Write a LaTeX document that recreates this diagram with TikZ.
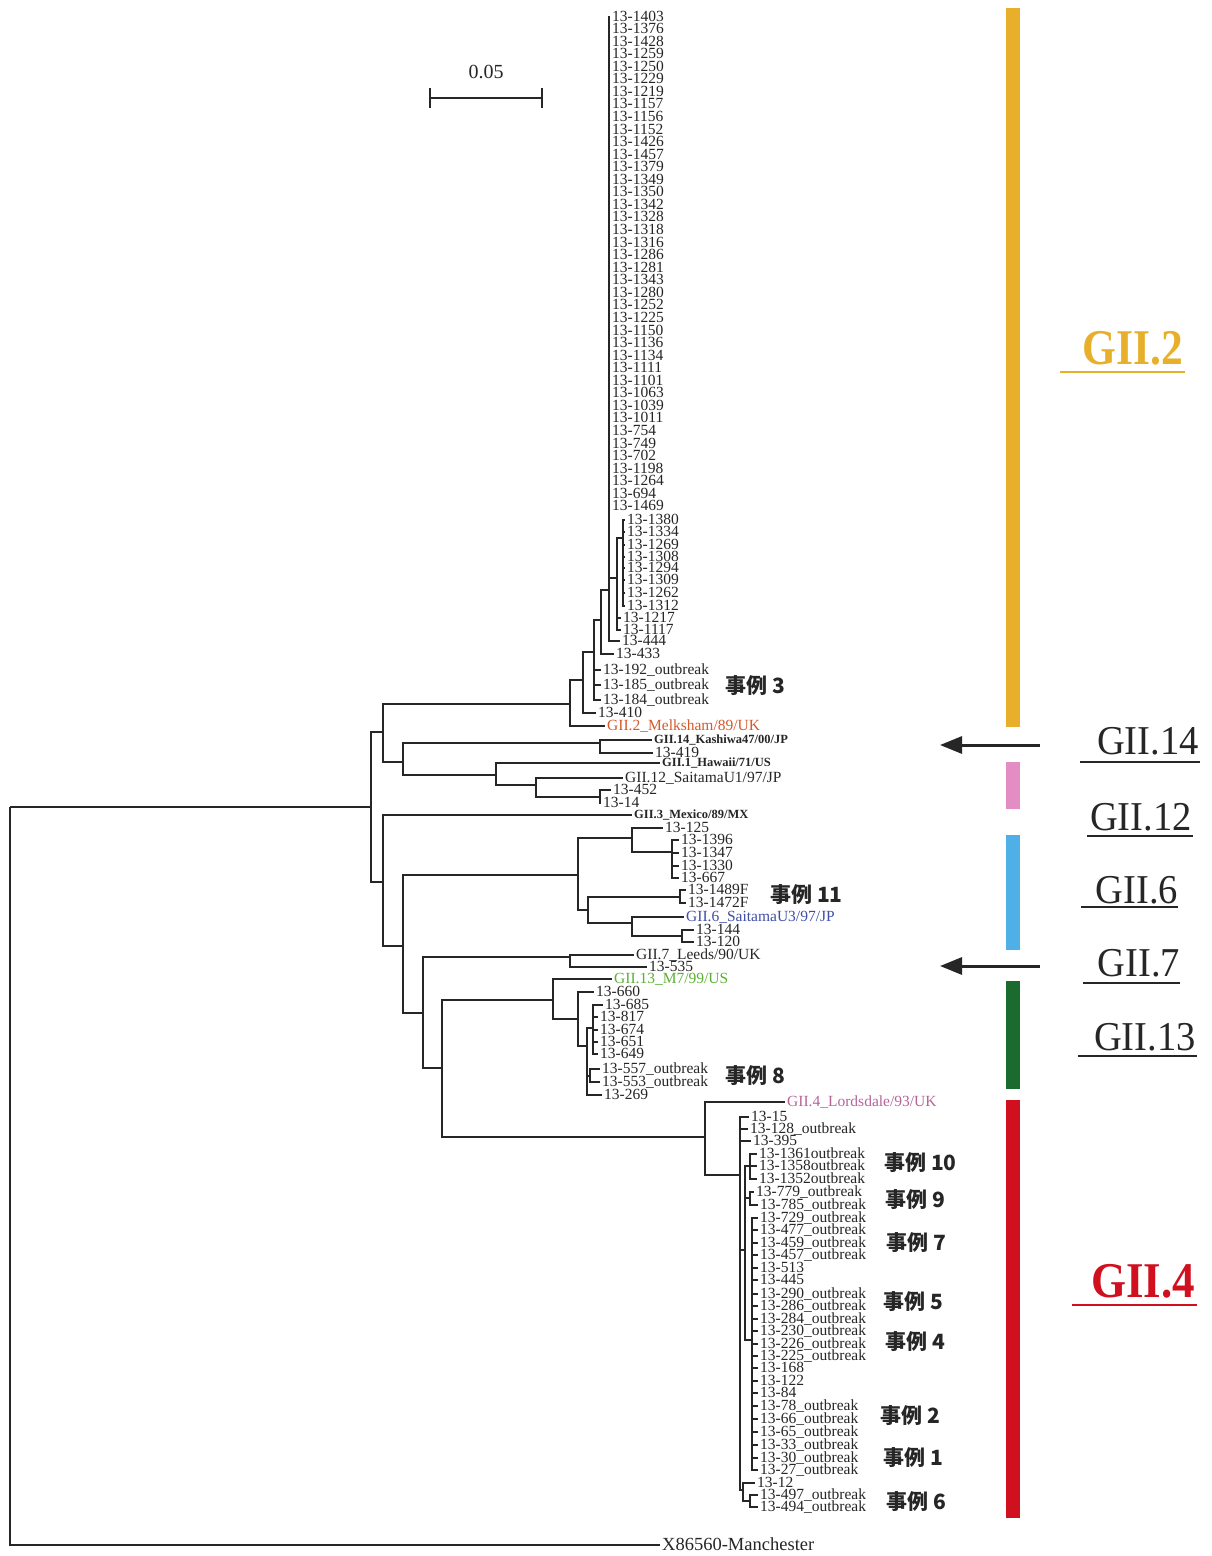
\documentclass[tikz,border=0pt]{standalone}
\usepackage{graphicx}
\usepackage{fontspec}
\setmainfont{Liberation Serif}
\newfontfamily\cjk{Noto Sans CJK JP}
\usetikzlibrary{arrows.meta}
\definecolor{cOr}{HTML}{E8B02A}
\definecolor{cPk}{HTML}{E48CC4}
\definecolor{cBl}{HTML}{4EB0E6}
\definecolor{cGn}{HTML}{1B6A2E}
\definecolor{cRd}{HTML}{D0101E}
\definecolor{tMel}{HTML}{D45A2A}
\definecolor{tSai}{HTML}{3F4FA8}
\definecolor{tM7}{HTML}{5BB033}
\definecolor{tLor}{HTML}{B5659A}
\definecolor{ink}{HTML}{262626}
\begin{document}
\begin{tikzpicture}[x=1pt,y=-1pt,
  br/.style={line width=2.2pt, draw=ink},
  leaf/.style={anchor=west, inner xsep=2pt, inner ysep=0pt, text height=9.6pt, text depth=1.6pt, text=ink, font=\fontsize{15.5}{15.5}\selectfont},
  refl/.style={anchor=west, inner xsep=2pt, inner ysep=0pt, text height=8pt, text depth=1pt, text=ink, font=\fontsize{12.5}{12.5}\selectfont\bfseries},
  caselab/.style={anchor=west, inner sep=0pt, text=ink, font=\cjk\bfseries\fontsize{21}{21}\selectfont},
  glab/.style={inner sep=0pt, text=ink, font=\fontsize{41}{41}\selectfont},
  gbig/.style={inner sep=0pt, font=\fontsize{50}{50}\selectfont\bfseries},
  uline/.style={line width=1.6pt, draw=ink},
  arr/.style={line width=3pt, draw=ink, -{Triangle[length=22pt,width=17pt]}}
]
\fill[white] (0,0) rectangle (1212,1556);
\useasboundingbox (0,0) rectangle (1212,1556);

% ---------- scale bar ----------
\coordinate (sbL) at (429,98);
\coordinate (sbR) at (543,98);
\draw[br, {Bar[width=20pt]}-{Bar[width=20pt]}] (sbL) -- (sbR);
\node[text=ink, font=\fontsize{20}{20}\selectfont] (sbt) at (486,72) {0.05};

% ---------- root ----------
\coordinate (root) at (10,807);
\coordinate (n371) at (371,807);
\draw[br] (root) |- (n371);
\node[leaf, text height=12pt, text depth=2pt, font=\fontsize{18.5}{18.5}\selectfont] (out) at (660,1545) {X86560-Manchester};
\draw[br] (root) |- (out.west);

% ---------- upper part ----------
\coordinate (nA) at (383,732);
\draw[br] (n371) |- (nA);
\coordinate (n570) at (570,704);
\coordinate (n403) at (403,762);
\draw[br] (nA) |- (n570);
\draw[br] (nA) |- (n403);

\coordinate (n583) at (583,680);
\node[leaf, text=tMel] (mel) at (605,726) {GII.2\_Melksham/89/UK};
\draw[br] (n570) |- (n583);
\draw[br] (n570) |- (mel.west);

\coordinate (n594) at (594,652);
\node[leaf] (l410) at (596,713) {13-410};
\draw[br] (n583) |- (n594);
\draw[br] (n583) |- (l410.west);

\coordinate (n601) at (601,620);
\draw[br] (n594) |- (n601);
\node[leaf] (l192) at (601,670) {13-192\_outbreak};
\node[leaf] (l185) at (601,685) {13-185\_outbreak};
\node[leaf] (l184) at (601,700) {13-184\_outbreak};
\draw[br] (n594) |- (l192.west);
\draw[br] (n594) |- (l185.west);
\draw[br] (n594) |- (l184.west);

\coordinate (n609) at (609,590);
\node[leaf] (l433) at (614,654) {13-433};
\draw[br] (n601) |- (n609);
\draw[br] (n601) |- (l433.west);

\foreach \t [count=\i] in {1403,1376,1428,1259,1250,1229,1219,1157,1156,1152,1426,1457,1379,1349,1350,1342,1328,1318,1316,1286,1281,1343,1280,1252,1225,1150,1136,1134,1111,1101,1063,1039,1011,754,749,702,1198,1264,694,1469}{
  \node[leaf] (p\i) at (610,{17+(\i-1)*12.56}) {13-\t};
  \draw[br] (n609) |- (p\i.west);
}
\coordinate (n617) at (617,578);
\node[leaf] (l444) at (620,641) {13-444};
\draw[br] (n609) |- (n617);
\draw[br] (n609) |- (l444.west);

\coordinate (n623) at (623,538);
\node[leaf] (l1217) at (621,618) {13-1217};
\node[leaf] (l1117) at (621,630) {13-1117};
\draw[br] (n617) |- (n623);
\draw[br] (n617) |- (l1217.west);
\draw[br] (n617) |- (l1117.west);
\foreach \t/\y [count=\i] in {1380/520,1334/532,1269/545,1308/557,1294/568,1309/580,1262/593,1312/606}{
  \node[leaf] (q\i) at (625,\y) {13-\t};
  \draw[br] (n623) |- (q\i.west);
}

% GII.14 / GII.1 / GII.12
\coordinate (n600a) at (600,743);
\coordinate (n496) at (496,775);
\draw[br] (n403) |- (n600a);
\draw[br] (n403) |- (n496);
\node[refl] (kas) at (652,740) {GII.14\_Kashiwa47/00/JP};
\node[leaf] (l419) at (653,753) {13-419};
\draw[br] (n600a) |- (kas.west);
\draw[br] (n600a) |- (l419.west);
\node[refl] (haw) at (660,763) {GII.1\_Hawaii/71/US};
\coordinate (n536) at (536,785);
\draw[br] (n496) |- (haw.west);
\draw[br] (n496) |- (n536);
\node[leaf] (su1) at (623,778) {GII.12\_SaitamaU1/97/JP};
\coordinate (n600b) at (600,797);
\draw[br] (n536) |- (su1.west);
\draw[br] (n536) |- (n600b);
\node[leaf] (l452) at (611,790) {13-452};
\node[leaf] (l14) at (601,803) {13-14};
\draw[br] (n600b) |- (l452.west);
\draw[br] (n600b) |- (l14.west);

% ---------- lower part ----------
\coordinate (nB) at (383,882);
\draw[br] (n371) |- (nB);
\node[refl] (mex) at (632,815) {GII.3\_Mexico/89/MX};
\coordinate (n403b) at (403,946);
\draw[br] (nB) |- (mex.west);
\draw[br] (nB) |- (n403b);
\coordinate (n578) at (578,875);
\coordinate (n423) at (423,1013);
\draw[br] (n403b) |- (n578);
\draw[br] (n403b) |- (n423);

% GII.6
\coordinate (n632) at (632,838);
\coordinate (n588) at (588,910);
\draw[br] (n578) |- (n632);
\draw[br] (n578) |- (n588);
\node[leaf] (l125) at (663,828) {13-125};
\coordinate (n672) at (672,852);
\draw[br] (n632) |- (l125.west);
\draw[br] (n632) |- (n672);
\foreach \t/\y [count=\i] in {1396/840,1347/853,1330/866,667/878}{
  \node[leaf] (r\i) at (679,\y) {13-\t};
  \draw[br] (n672) |- (r\i.west);
}
\coordinate (n680) at (680,897);
\coordinate (n632b) at (632,923);
\draw[br] (n588) |- (n680);
\draw[br] (n588) |- (n632b);
\node[leaf] (l1489) at (686,890) {13-1489F};
\node[leaf] (l1472) at (686,903) {13-1472F};
\draw[br] (n680) |- (l1489.west);
\draw[br] (n680) |- (l1472.west);
\node[leaf, text=tSai] (su3) at (684,917) {GII.6\_SaitamaU3/97/JP};
\coordinate (n682) at (682,936);
\draw[br] (n632b) |- (su3.west);
\draw[br] (n632b) |- (n682);
\node[leaf] (l144) at (694,930) {13-144};
\node[leaf] (l120) at (694,942) {13-120};
\draw[br] (n682) |- (l144.west);
\draw[br] (n682) |- (l120.west);

% GII.7
\coordinate (n570b) at (570,957);
\coordinate (n442) at (442,1068);
\draw[br] (n423) |- (n570b);
\draw[br] (n423) |- (n442);
\node[leaf] (lee) at (634,955) {GII.7\_Leeds/90/UK};
\node[leaf] (l535) at (647,967) {13-535};
\draw[br] (n570b) |- (lee.west);
\draw[br] (n570b) |- (l535.west);

% GII.13
\coordinate (n553) at (553,1000);
\coordinate (n705) at (705,1137);
\draw[br] (n442) |- (n553);
\draw[br] (n442) |- (n705);
\node[leaf, text=tM7] (m7) at (612,979) {GII.13\_M7/99/US};
\coordinate (n578b) at (578,1019);
\draw[br] (n553) |- (m7.west);
\draw[br] (n553) |- (n578b);
\node[leaf] (l660) at (594,992) {13-660};
\coordinate (n587) at (587,1046);
\draw[br] (n578b) |- (l660.west);
\draw[br] (n578b) |- (n587);
\coordinate (n593) at (593,1028);
\coordinate (n590) at (590,1076);
\node[leaf] (l269) at (602,1095) {13-269};
\draw[br] (n587) |- (n593);
\draw[br] (n587) |- (n590);
\draw[br] (n587) |- (l269.west);
\node[leaf] (l685) at (603,1005) {13-685};
\draw[br] (n593) |- (l685.west);
\foreach \t/\y [count=\i] in {817/1017,674/1030,651/1042,649/1054}{
  \node[leaf] (s\i) at (598,\y) {13-\t};
  \draw[br] (n593) |- (s\i.west);
}
\node[leaf] (l557) at (600,1069) {13-557\_outbreak};
\node[leaf] (l553) at (600,1082) {13-553\_outbreak};
\draw[br] (n590) |- (l557.west);
\draw[br] (n590) |- (l553.west);

% GII.4
\node[leaf, text=tLor] (lor) at (785,1102) {GII.4\_Lordsdale/93/UK};
\coordinate (n740) at (740,1175);
\draw[br] (n705) |- (lor.west);
\draw[br] (n705) |- (n740);
\node[leaf] (l15) at (749,1117) {13-15};
\node[leaf] (l128) at (748,1129) {13-128\_outbreak};
\node[leaf] (l395) at (751,1141) {13-395};
\coordinate (n745) at (745,1250);
\coordinate (n743) at (743,1490);
\draw[br] (n740) |- (l15.west);
\draw[br] (n740) |- (l128.west);
\draw[br] (n740) |- (l395.west);
\draw[br] (n740) |- (n745);
\draw[br] (n740) |- (n743);
\coordinate (n750a) at (750,1166);
\coordinate (n750b) at (750,1198);
\coordinate (n752) at (752,1340);
\draw[br] (n745) |- (n750a);
\draw[br] (n745) |- (n750b);
\draw[br] (n745) |- (n752);
\foreach \t/\y [count=\i] in {1361/1154,1358/1166,1352/1179}{
  \node[leaf] (u\i) at (757,\y) {13-\t outbreak};
  \draw[br] (n750a) |- (u\i.west);
}
\node[leaf] (l779) at (754,1192) {13-779\_outbreak};
\node[leaf] (l785) at (758,1205) {13-785\_outbreak};
\draw[br] (n750b) |- (l779.west);
\draw[br] (n750b) |- (l785.west);
\foreach \t/\y [count=\i] in {729\_outbreak/1218,477\_outbreak/1230,459\_outbreak/1243,457\_outbreak/1255,513/1268,445/1280,290\_outbreak/1294,286\_outbreak/1306,284\_outbreak/1319,230\_outbreak/1331,226\_outbreak/1344,225\_outbreak/1356,168/1368,122/1381,84/1393,78\_outbreak/1406,66\_outbreak/1419,65\_outbreak/1432,33\_outbreak/1445,30\_outbreak/1458,27\_outbreak/1470}{
  \node[leaf] (v\i) at (758,\y) {13-\t};
  \draw[br] (n752) |- (v\i.west);
}
\node[leaf] (l12) at (755,1483) {13-12};
\coordinate (n750c) at (750,1501);
\draw[br] (n743) |- (l12.west);
\draw[br] (n743) |- (n750c);
\node[leaf] (l497) at (758,1495) {13-497\_outbreak};
\node[leaf] (l494) at (758,1507) {13-494\_outbreak};
\draw[br] (n750c) |- (l497.west);
\draw[br] (n750c) |- (l494.west);

% ---------- case labels ----------
\node[caselab] (c3) at (725,686) {事例 3};
\node[caselab] (c11) at (770,895) {事例 11};
\node[caselab] (c8) at (725,1076) {事例 8};
\node[caselab] (c10) at (884,1163) {事例 10};
\node[caselab] (c9) at (885,1200) {事例 9};
\node[caselab] (c7) at (886,1243) {事例 7};
\node[caselab] (c5) at (883,1302) {事例 5};
\node[caselab] (c4) at (885,1342) {事例 4};
\node[caselab] (c2) at (880,1416) {事例 2};
\node[caselab] (c1) at (883,1458) {事例 1};
\node[caselab] (c6) at (886,1502) {事例 6};

% ---------- genotype bars ----------
\fill[cOr] (1006,8) rectangle (1020,727);
\fill[cPk] (1006,762) rectangle (1020,809);
\fill[cBl] (1006,835) rectangle (1020,950);
\fill[cGn] (1006,981) rectangle (1020,1089);
\fill[cRd] (1006,1100) rectangle (1020,1518);

% ---------- arrows ----------
\coordinate (a14s) at (1040,745);
\coordinate (a14e) at (940,745);
\draw[arr] (a14s) -- (a14e);
\coordinate (a7s) at (1040,966);
\coordinate (a7e) at (940,966);
\draw[arr] (a7s) -- (a7e);

% ---------- genotype labels ----------
\node[gbig, text=cOr] (g2) at (1133,348) {\scalebox{0.87}[1]{GII.2}};
\draw[uline, draw=cOr] (1060,372) -- (1185,372);
\node[glab] (g14) at (1148,741) {\scalebox{0.94}[1]{GII.14}};
\draw[uline] (1080,762) -- (1200,762);
\node[glab] (g12) at (1141,817) {\scalebox{0.94}[1]{GII.12}};
\draw[uline] (1087,836) -- (1193,836);
\node[glab] (g6) at (1137,890) {\scalebox{0.94}[1]{GII.6}};
\draw[uline] (1081,907) -- (1178,907);
\node[glab] (g7) at (1139,963) {\scalebox{0.94}[1]{GII.7}};
\draw[uline] (1083,983) -- (1180,983);
\node[glab] (g13) at (1145,1037) {\scalebox{0.94}[1]{GII.13}};
\draw[uline] (1078,1056) -- (1197,1056);
\node[gbig, text=cRd] (g4) at (1143,1281) {\scalebox{0.9}[1]{GII.4}};
\draw[uline, draw=cRd] (1072,1305) -- (1197,1305);
\end{tikzpicture}
\end{document}
